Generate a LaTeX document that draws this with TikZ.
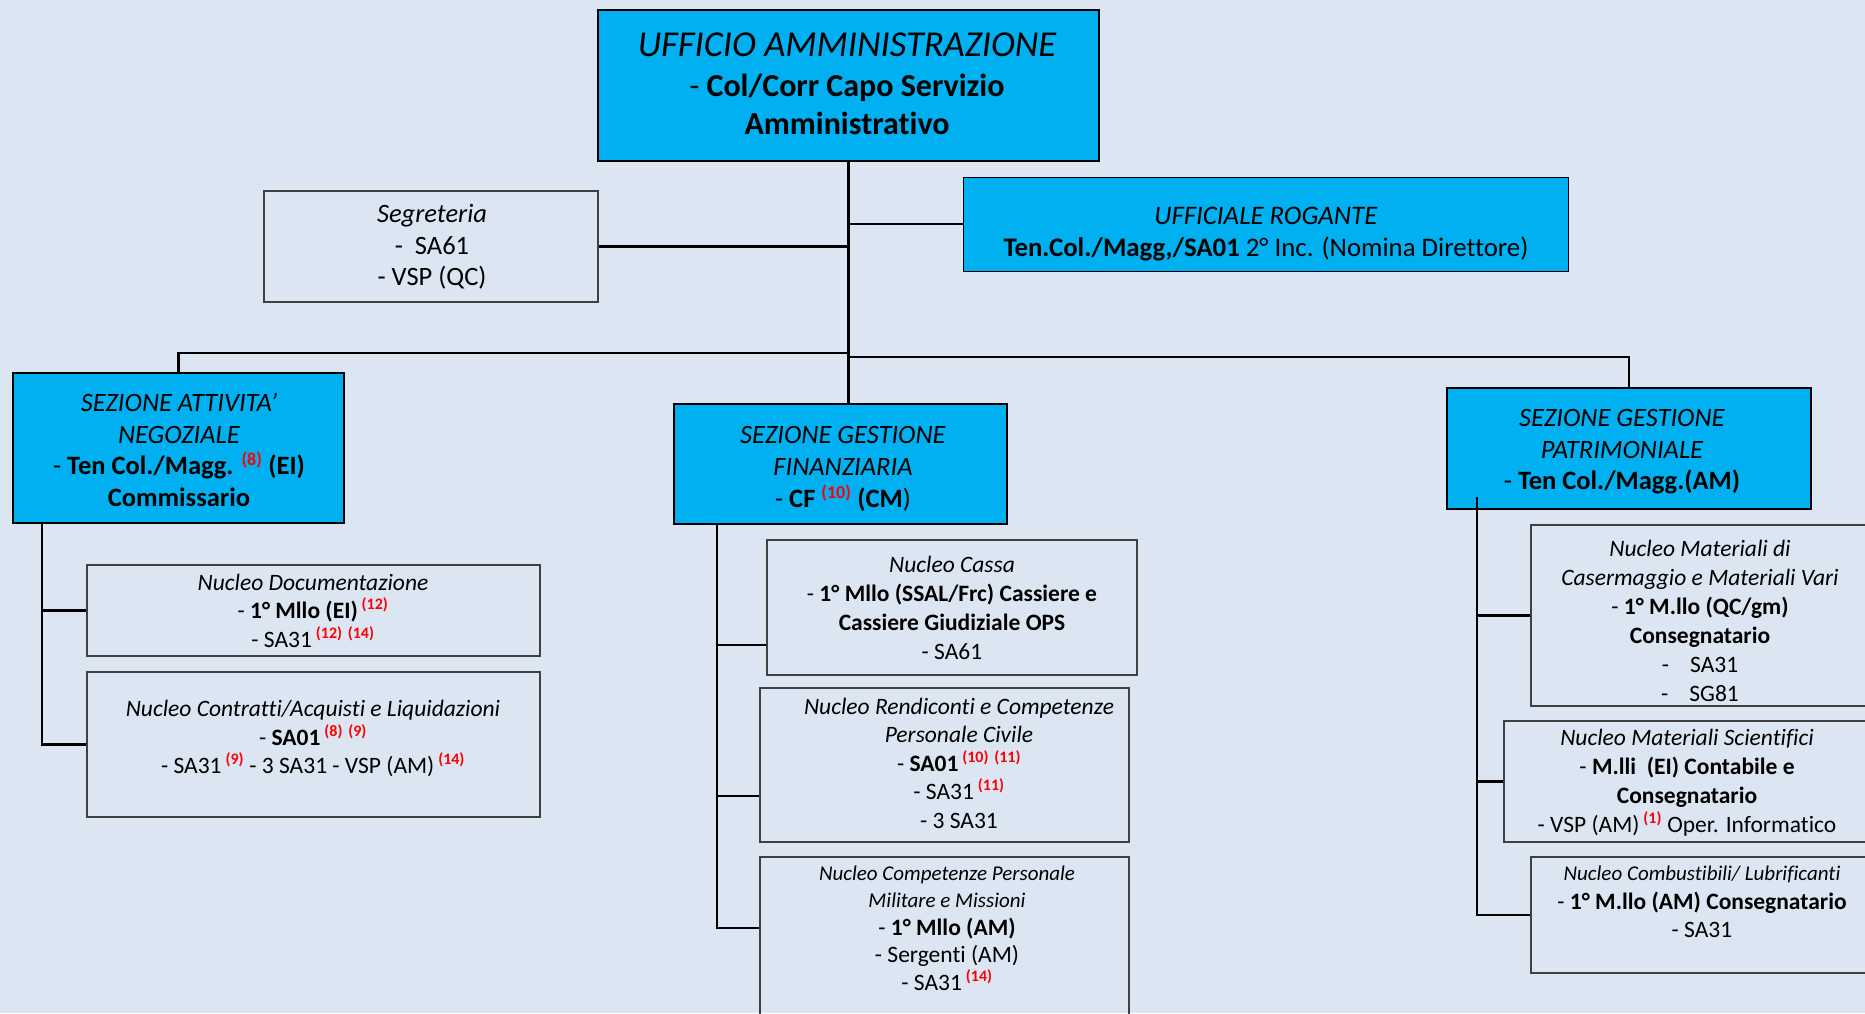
\documentclass[tikz,border=0pt]{standalone}
\usepackage{fontspec}
\setmainfont{Carlito}[Ligatures={NoCommon,NoContextual}]
\renewcommand\defaultscriptratio{.68}
\definecolor{sfondo}{HTML}{DCE6F2}
\definecolor{azzurro}{HTML}{00B0F0}
\definecolor{bordo}{HTML}{404040}
\newcommand\nota[1]{\textsuperscript{\textcolor{red}{\bfseries(#1)}}}
\tikzset{
  capo/.style={draw=black, line width=1.3pt, fill=azzurro, inner sep=0pt},
  nucleo/.style={draw=bordo, line width=1.6pt, inner sep=0pt},
  testo/.style={align=center, inner sep=0pt, font=\fontsize{23.5}{29}\selectfont},
  testosez/.style={align=center, inner sep=0pt, font=\fontsize{26.5}{31.5}\selectfont},
  linea/.style={line width=2.6pt, black},
}
\begin{document}
\begin{tikzpicture}[x=1pt,y=-1pt]
  \useasboundingbox (0,0) rectangle (1865,1013);
  \fill[sfondo] (0,0) rectangle (1865,1013);

  % Ufficio e staff
  \node[capo, minimum width=501pt, minimum height=151pt] (uff) at (848.5,85.5) {};
  \node[testo, font=\fontsize{32}{38}\selectfont] (uff-t) at (847,84)
    {{\fontsize{36.5}{40}\selectfont\itshape UFFICIO AMMINISTRAZIONE}\\[2pt]
     - \textbf{Col/Corr Capo Servizio}\\ \textbf{Amministrativo}};

  \node[nucleo, minimum width=334pt, minimum height=111pt] (segr) at (431,246.5) {};
  \node[testo, font=\fontsize{26.5}{31.5}\selectfont] (segr-t) at (432,247)
    {\textit{Segreteria}\\ -\ \ SA61\\ - VSP (QC)};

  \node[capo, line width=1pt, minimum width=605pt, minimum height=94pt] (rog) at (1265.5,224) {};
  \node[testo, font=\fontsize{26.8}{32}\selectfont] (rog-t) at (1266,234)
    {\textit{UFFICIALE ROGANTE}\\ \textbf{Ten.Col./Magg,/SA01} 2° Inc. (Nomina Direttore)};

  % Sezioni
  \node[capo, minimum width=331pt, minimum height=150pt] (san) at (178.5,448) {};
  \node[testosez] (san-t) at (179,450)
    {\textit{SEZIONE ATTIVITA’}\\ \textit{NEGOZIALE}\\
     - \textbf{Ten Col./Magg.} \nota{8} \textbf{(EI)}\\ \textbf{Commissario}};

  \node[capo, minimum width=333pt, minimum height=120pt] (sgf) at (840.5,464) {};
  \node[testosez, font=\fontsize{26.5}{32}\selectfont] (sgf-t) at (843,468.5)
    {\textit{SEZIONE GESTIONE}\\ \textit{FINANZIARIA}\\ - \textbf{CF} \nota{10} \textbf{(CM})};

  \node[capo, minimum width=364pt, minimum height=121pt] (sgp) at (1629,448.5) {};
  \node[testosez] (sgp-t) at (1622,452)
    {\textit{SEZIONE GESTIONE}\\ \textit{PATRIMONIALE}\\ - \textbf{Ten Col./Magg.(AM)}};

  % Nuclei attivita' negoziale
  \node[nucleo, minimum width=453pt, minimum height=91pt] (ndoc) at (313.5,610.5) {};
  \node[testo, font=\fontsize{23.5}{28.5}\selectfont] (ndoc-t) at (313,610.5)
    {\textit{Nucleo Documentazione}\\ - \textbf{1° Mllo (EI)}\,\nota{12}\\ - SA31\,\nota{12} \nota{14}};

  \node[nucleo, minimum width=453pt, minimum height=145pt] (ncon) at (313.5,744.5) {};
  \node[testo, font=\fontsize{23.5}{28.5}\selectfont] (ncon-t) at (313,738.5)
    {\textit{Nucleo Contratti/Acquisti e Liquidazioni}\\ - \textbf{SA01}\,\nota{8} \nota{9}\\
     - SA31\,\nota{9} - 3 SA31 - VSP (AM)\,\nota{14}};

  % Nuclei gestione finanziaria
  \node[nucleo, minimum width=370pt, minimum height=135pt] (ncas) at (952,607.5) {};
  \node[testo] (ncas-t) at (952,608)
    {\textit{Nucleo Cassa}\\ - \textbf{1° Mllo (SSAL/Frc) Cassiere e}\\
     \textbf{Cassiere Giudiziale OPS}\\ - SA61};

  \node[nucleo, minimum width=369pt, minimum height=154pt] (nren) at (944.5,765) {};
  \node[testo, font=\fontsize{23.5}{28.5}\selectfont] (nren-t) at (959,763)
    {\textit{Nucleo Rendiconti e Competenze}\\ \textit{Personale Civile}\\
     - \textbf{SA01}\,\nota{10} \nota{11}\\ - SA31\,\nota{11}\\ - 3 SA31};

  \node[nucleo, minimum width=369pt, minimum height=173pt] (ncomp) at (944.5,943.5) {};
  \node[testo, font=\fontsize{23.5}{27.5}\selectfont] (ncomp-t) at (947,928)
    {{\fontsize{21}{27}\selectfont\itshape Nucleo Competenze Personale}\\
     {\fontsize{21}{27}\selectfont\itshape Militare e Missioni}\\
     - \textbf{1° Mllo (AM)}\\ - Sergenti (AM)\\ - SA31\,\nota{14}};

  % Nuclei gestione patrimoniale
  \node[nucleo, minimum width=339pt, minimum height=181pt] (nmat) at (1700.5,615.5) {};
  \node[testo] (nmat-t) at (1700,621)
    {\textit{Nucleo Materiali di}\\ \textit{Casermaggio e Materiali Vari}\\
     - \textbf{1° M.llo (QC/gm)}\\ \textbf{Consegnatario}\\
     -\hspace{0.9em}SA31\\ -\hspace{0.9em}SG81};

  \node[nucleo, minimum width=366pt, minimum height=121pt] (nsci) at (1687,781.5) {};
  \node[testo] (nsci-t) at (1687,783)
    {\textit{Nucleo Materiali Scientifici}\\ - \textbf{M.lli\ \ (EI) Contabile e}\\
     \textbf{Consegnatario}\\ - VSP (AM)\,\nota{1} Oper. Informatico};

  \node[nucleo, minimum width=339pt, minimum height=116pt] (ncomb) at (1700.5,915) {};
  \node[testo, font=\fontsize{23.5}{28.5}\selectfont] (ncomb-t) at (1702,902)
    {{\fontsize{21}{27}\selectfont\itshape Nucleo Combustibili/ Lubrificanti}\\
     - \textbf{1° M.llo (AM) Consegnatario}\\ - SA31};

  % Collegamenti
  \coordinate (jl) at (848.5,353);
  \coordinate (jr) at (848.5,357);
  \coordinate (sanb) at (42,523);
  \coordinate (sgfb) at (717,524);
  \coordinate (sgpb) at (1477,497);

  \draw[linea] (uff.south) -- (uff.south |- sgf.north);
  \draw[linea] (segr.east) -- (segr.east -| uff.south);
  \draw[linea] (rog.west) -- (rog.west -| uff.south);
  \draw[linea] (jl) -| (san.north);
  \draw[linea] (jr) -| (sgp.north);

  \draw[linea] (sanb) |- (ndoc.west);
  \draw[linea] (sanb) |- (ncon.west);

  \draw[linea] (sgfb) |- (ncas.west |- 0,645);
  \draw[linea] (sgfb) |- (nren.west |- 0,796);
  \draw[linea] (sgfb) |- (ncomp.west |- 0,928);

  \draw[linea] (sgpb) |- (nmat.west);
  \draw[linea] (sgpb) |- (nsci.west);
  \draw[linea] (sgpb) |- (ncomb.west);
\end{tikzpicture}
\end{document}
